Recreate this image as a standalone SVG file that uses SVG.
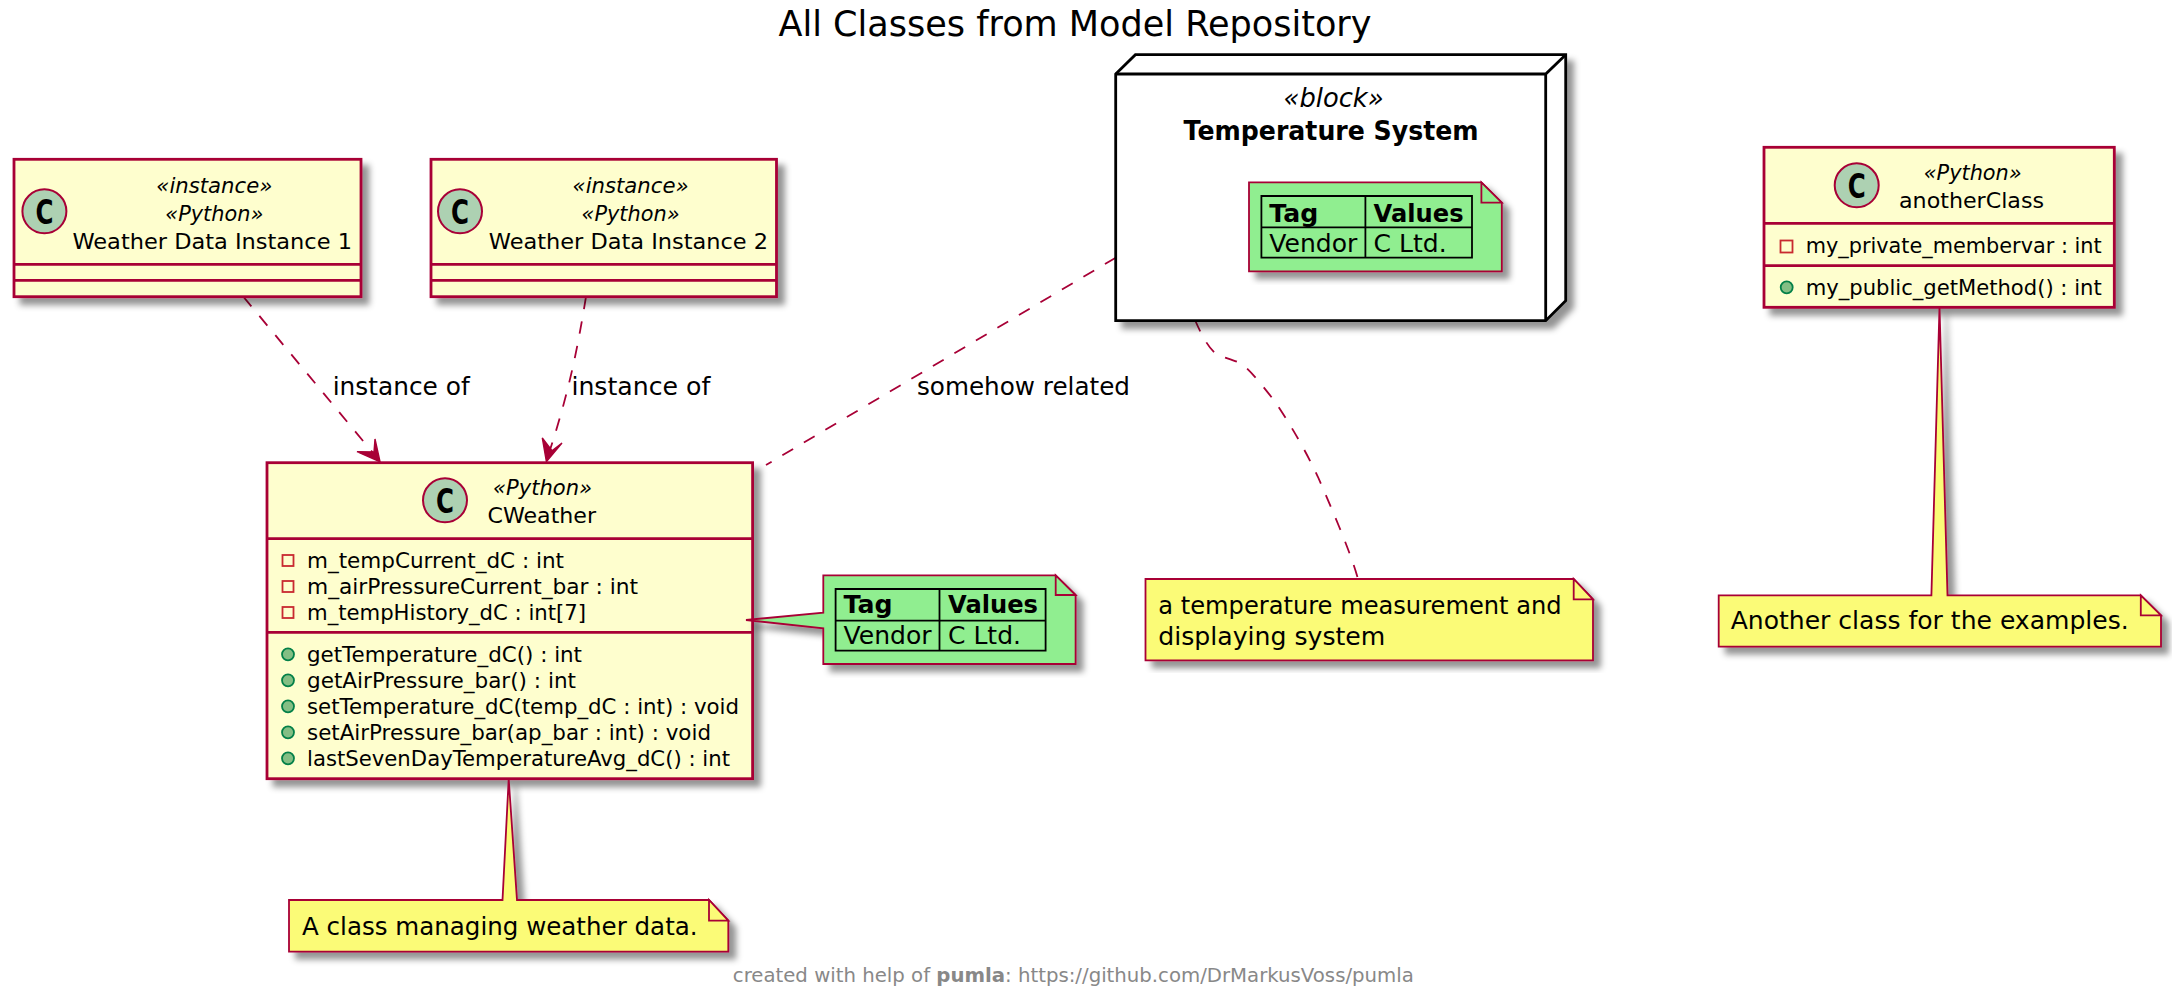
<svg xmlns="http://www.w3.org/2000/svg" width="2172" height="997" viewBox="0 0 2172 997">
<defs>
<filter id="sh" x="-10%" y="-10%" width="125%" height="125%"><feDropShadow dx="7" dy="7" stdDeviation="3" flood-color="#000" flood-opacity="0.42"/></filter>
</defs>
<style>
text{font-family:"DejaVu Sans","Liberation Sans",sans-serif;fill:#000}
.t{font-size:21.5px}
.i{font-size:22px;font-style:italic}
.n{font-size:25px}
.l{font-size:25px}
.b{font-weight:bold}
.c{font-size:33px;font-weight:bold;text-anchor:middle}
.box{fill:#FEFECE;stroke:#A80036;stroke-width:2.8;filter:url(#sh)}
.sep{stroke:#A80036;stroke-width:2.8;fill:none}
.spot{fill:#ADD1B2;stroke:#A80036;stroke-width:2}
.pri{fill:none;stroke:#C82930;stroke-width:1.8}
.pub{fill:#84BE84;stroke:#038048;stroke-width:1.8}
.note{stroke:#A80036;stroke-width:1.8;filter:url(#sh)}
.fold{stroke:#A80036;stroke-width:1.8}
.y{fill:#FBFB77}
.g{fill:#90EE90}
.tb{fill:none;stroke:#000;stroke-width:1.8}
.dash{fill:none;stroke:#A80036;stroke-width:1.8;stroke-dasharray:12.5 12.5}
.head{fill:#A80036;stroke:#A80036;stroke-width:1.4}
</style>
<text id="title" x="1075" y="36" text-anchor="middle" font-size="36" textLength="593" lengthAdjust="spacingAndGlyphs">All Classes from Model Repository</text>

<g id="connectors">
<path class="dash" d="M243.4,296.7 L378,459"/>
<path class="head" d="M380,461.7 L375,439 L374,452 L357,451.7 Z"/>
<path class="dash" d="M586,296.7 C578,345 570,390 547,459"/>
<path class="head" d="M546.4,461.7 L542.3,438 L552,450.7 L562,443 Z"/>
<path class="dash" d="M1115.7,257.7 L766,465"/>
<path class="dash" d="M1195,320 C1202,336 1208,347 1216,354 C1224,358 1236,360 1243,365 C1252,372 1266,390 1276,403 C1286,418 1303,445 1318,477 C1330,505 1350,550 1358,579"/>
<text class="l" x="332.7" y="395" textLength="137" lengthAdjust="spacingAndGlyphs">instance of</text>
<text class="l" x="571.4" y="395" textLength="139" lengthAdjust="spacingAndGlyphs">instance of</text>
<text class="l" x="917" y="395" textLength="213" lengthAdjust="spacingAndGlyphs">somehow related</text>
</g>

<g id="inst1">
<rect class="box" x="14" y="159.3" width="347" height="137.4"/>
<path class="sep" d="M14,264.3H361M14,280.3H361"/>
<ellipse class="spot" cx="44.4" cy="211.3" rx="22" ry="22"/>
<text class="c" x="44.4" y="223.5" textLength="18" lengthAdjust="spacingAndGlyphs">C</text>
<text class="i" x="214.3" y="192.7" text-anchor="middle" textLength="116" lengthAdjust="spacingAndGlyphs">«instance»</text>
<text class="i" x="214.3" y="220.7" text-anchor="middle" textLength="98" lengthAdjust="spacingAndGlyphs">«Python»</text>
<text class="t" x="72.4" y="249" textLength="279.6" lengthAdjust="spacingAndGlyphs">Weather Data Instance 1</text>
</g>

<g id="inst2">
<rect class="box" x="431" y="159.3" width="345.5" height="137.4"/>
<path class="sep" d="M431,264.3H776.5M431,280.3H776.5"/>
<ellipse class="spot" cx="460" cy="211.3" rx="22" ry="22"/>
<text class="c" x="460" y="223.5" textLength="18" lengthAdjust="spacingAndGlyphs">C</text>
<text class="i" x="630.6" y="192.7" text-anchor="middle" textLength="116" lengthAdjust="spacingAndGlyphs">«instance»</text>
<text class="i" x="630.6" y="220.7" text-anchor="middle" textLength="98" lengthAdjust="spacingAndGlyphs">«Python»</text>
<text class="t" x="488.8" y="249" textLength="279.2" lengthAdjust="spacingAndGlyphs">Weather Data Instance 2</text>
</g>

<g id="cweather">
<rect class="box" x="267" y="462.7" width="485.6" height="316"/>
<path class="sep" d="M267,538.7H752.6M267,632.3H752.6"/>
<ellipse class="spot" cx="445" cy="500.3" rx="22" ry="22"/>
<text class="c" x="445" y="512.5" textLength="18" lengthAdjust="spacingAndGlyphs">C</text>
<text class="i" x="542.6" y="495" text-anchor="middle" textLength="99" lengthAdjust="spacingAndGlyphs">«Python»</text>
<text class="t" x="487.5" y="523.3" textLength="108.5" lengthAdjust="spacingAndGlyphs">CWeather</text>
<rect class="pri" x="282.5" y="555" width="11" height="11"/>
<rect class="pri" x="282.5" y="581" width="11" height="11"/>
<rect class="pri" x="282.5" y="607" width="11" height="11"/>
<circle class="pub" cx="288" cy="654.3" r="6"/>
<circle class="pub" cx="288" cy="680.3" r="6"/>
<circle class="pub" cx="288" cy="706.3" r="6"/>
<circle class="pub" cx="288" cy="732.3" r="6"/>
<circle class="pub" cx="288" cy="758.3" r="6"/>
<text class="t" x="307" y="568.3" textLength="257" lengthAdjust="spacingAndGlyphs">m_tempCurrent_dC : int</text>
<text class="t" x="307" y="594.3" textLength="331" lengthAdjust="spacingAndGlyphs">m_airPressureCurrent_bar : int</text>
<text class="t" x="307" y="620.3" textLength="279" lengthAdjust="spacingAndGlyphs">m_tempHistory_dC : int[7]</text>
<text class="t" x="307" y="661.7" textLength="275" lengthAdjust="spacingAndGlyphs">getTemperature_dC() : int</text>
<text class="t" x="307" y="687.7" textLength="269" lengthAdjust="spacingAndGlyphs">getAirPressure_bar() : int</text>
<text class="t" x="307" y="714" textLength="432" lengthAdjust="spacingAndGlyphs">setTemperature_dC(temp_dC : int) : void</text>
<text class="t" x="307" y="740" textLength="404" lengthAdjust="spacingAndGlyphs">setAirPressure_bar(ap_bar : int) : void</text>
<text class="t" x="307" y="766" textLength="423" lengthAdjust="spacingAndGlyphs">lastSevenDayTemperatureAvg_dC() : int</text>
</g>

<g id="node-temperature-system">
<path d="M1115.7,74 L1135.4,54.7 H1565.7 V300.7 L1545.7,320.7 H1115.7 Z" fill="#fff" stroke="#000" stroke-width="2.8" filter="url(#sh)"/>
<path d="M1115.7,74 H1545.7 L1565.7,54.7 M1545.7,74 V320.7" fill="none" stroke="#000" stroke-width="2.8"/>
<text x="1333.6" y="106.7" font-size="27" font-style="italic" text-anchor="middle" textLength="100" lengthAdjust="spacingAndGlyphs">«block»</text>
<text class="b" x="1183.6" y="140" font-size="27" textLength="295" lengthAdjust="spacingAndGlyphs">Temperature System</text>
<g id="note-system-tags">
<path class="note g" d="M1249,182.3 H1481.4 L1501.8,202.7 V271.3 H1249 Z"/>
<path class="fold g" d="M1481.4,182.3 V202.7 H1501.8 Z"/>
<path class="tb" d="M1261.4,196 H1472 V257.7 H1261.4 Z M1261.4,227.3 H1472 M1365.4,196 V257.7"/>
<text class="n b" x="1269.3" y="221.7" textLength="49" lengthAdjust="spacingAndGlyphs">Tag</text>
<text class="n b" x="1373.6" y="221.7" textLength="90" lengthAdjust="spacingAndGlyphs">Values</text>
<text class="n" x="1269.3" y="251.7" textLength="88" lengthAdjust="spacingAndGlyphs">Vendor</text>
<text class="n" x="1373.6" y="251.7" textLength="73" lengthAdjust="spacingAndGlyphs">C Ltd.</text>
</g>
</g>

<g id="anotherclass">
<rect class="box" x="1764" y="147.3" width="350.3" height="160"/>
<path class="sep" d="M1764,223.3H2114.3M1764,265.7H2114.3"/>
<ellipse class="spot" cx="1856.7" cy="185.3" rx="22" ry="22"/>
<text class="c" x="1856.7" y="197.5" textLength="18" lengthAdjust="spacingAndGlyphs">C</text>
<text class="i" x="1972.7" y="180" text-anchor="middle" textLength="98" lengthAdjust="spacingAndGlyphs">«Python»</text>
<text class="t" x="1899" y="208.3" textLength="145" lengthAdjust="spacingAndGlyphs">anotherClass</text>
<rect class="pri" x="1780.5" y="240.5" width="12" height="12"/>
<circle class="pub" cx="1786.7" cy="287.3" r="6"/>
<text class="t" x="1805.7" y="253.3" textLength="296" lengthAdjust="spacingAndGlyphs">my_private_membervar : int</text>
<text class="t" x="1805.7" y="295" textLength="296" lengthAdjust="spacingAndGlyphs">my_public_getMethod() : int</text>
</g>

<g id="note-cweather-tags">
<path class="note g" d="M823.3,575.3 H1055.7 L1075.6,595 V664 H823.3 V628.3 L746,620 L823.3,612.7 Z"/>
<path class="fold g" d="M1055.7,575.3 V595 H1075.6 Z"/>
<path class="tb" d="M835.6,589 H1045.6 V650.7 H835.6 Z M835.6,620.7 H1045.6 M939.5,589 V650.7"/>
<text class="n b" x="843.6" y="613.3" textLength="49" lengthAdjust="spacingAndGlyphs">Tag</text>
<text class="n b" x="948" y="613.3" textLength="90" lengthAdjust="spacingAndGlyphs">Values</text>
<text class="n" x="843.6" y="644.3" textLength="88" lengthAdjust="spacingAndGlyphs">Vendor</text>
<text class="n" x="948" y="644.3" textLength="73" lengthAdjust="spacingAndGlyphs">C Ltd.</text>
</g>

<g id="note-system">
<path class="note y" d="M1145.5,579 H1573.7 L1593,599.3 V660.3 H1145.5 Z"/>
<path class="fold y" d="M1573.7,579 V599.3 H1593 Z"/>
<text class="n" x="1158.3" y="614" textLength="403.3" lengthAdjust="spacingAndGlyphs">a temperature measurement and</text>
<text class="n" x="1158.3" y="645" textLength="227" lengthAdjust="spacingAndGlyphs">displaying system</text>
</g>

<g id="note-anotherclass">
<path class="note y" d="M1718.7,595.3 H1931.4 L1939.5,307 L1947.5,595.3 H2140.8 L2161,615.3 V646.7 H1718.7 Z"/>
<path class="fold y" d="M2140.8,595.3 V615.3 H2161 Z"/>
<text class="n" x="1730.7" y="629.3" textLength="398" lengthAdjust="spacingAndGlyphs">Another class for the examples.</text>
</g>

<g id="note-cweather">
<path class="note y" d="M289,900 H502.5 L508.7,779 L517,900 H709 L728.3,920.7 V951.7 H289 Z"/>
<path class="fold y" d="M709,900 V920.7 H728.3 Z"/>
<text class="n" x="302" y="935" textLength="395.6" lengthAdjust="spacingAndGlyphs">A class managing weather data.</text>
</g>

<text id="footer" x="732.8" y="981.7" font-size="20" style="fill:#888888" textLength="681" lengthAdjust="spacingAndGlyphs">created with help of <tspan font-weight="bold">pumla</tspan>: https://github.com/DrMarkusVoss/pumla</text>
</svg>
